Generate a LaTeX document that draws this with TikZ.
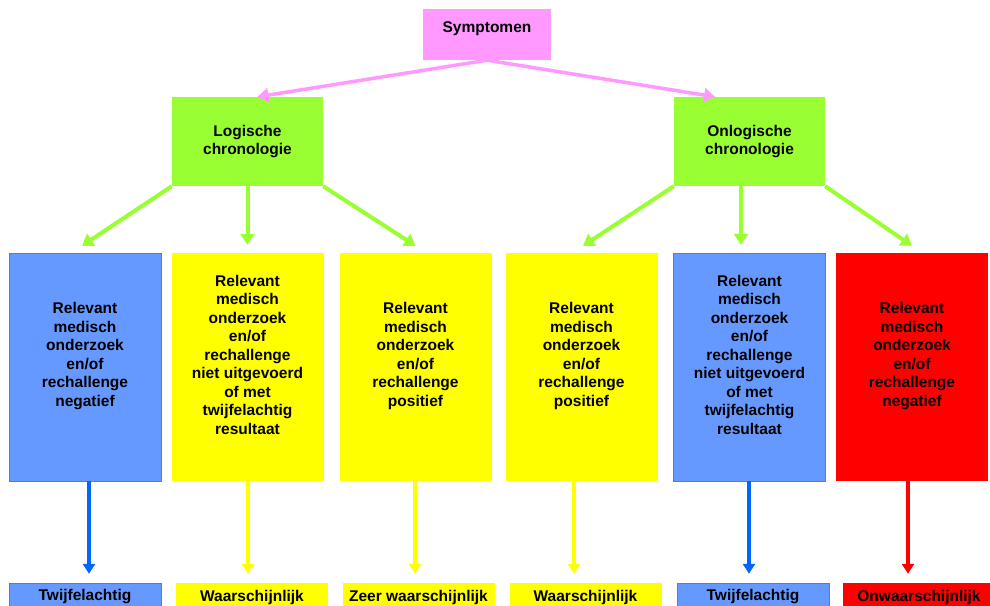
\documentclass[tikz,border=0pt]{standalone}
\usepackage{fontspec}
\setmainfont{Liberation Sans}
\usetikzlibrary{arrows.meta}
\newcommand\lift[1]{\raisebox{7pt}[0pt][0pt]{\begin{tabular}{@{}c@{}}#1\end{tabular}}}

\begin{document}
\begin{tikzpicture}[x=1pt,y=-1pt,
  every node/.style={font=\fontsize{15.5}{18.5}\selectfont\bfseries, inner sep=0pt, align=center},
  head/.style={fill=sym pink, minimum width=128pt, minimum height=51pt},
  branch/.style={fill=branch green, minimum width=151pt, minimum height=89pt},
  outcome/.style={minimum width=152pt, minimum height=228pt},
  verdict/.style={minimum width=152pt, minimum height=28pt},
  link/.style={line width=4pt, -{Triangle[length=11pt,width=14pt]}},
  drop/.style={line width=3.5pt, shorten >=9pt, -{Triangle[length=10pt,width=12pt]}}]
\definecolor{sym pink}{HTML}{FF99FF}
\definecolor{branch green}{HTML}{99FF33}
\definecolor{doubt blue}{HTML}{6699FF}
\definecolor{doubt edge}{HTML}{3D80FF}
\definecolor{arrow blue}{HTML}{0066FF}
\definecolor{bright yellow}{HTML}{FFFF00}
\definecolor{bright red}{HTML}{FF0000}
\def\negtext{Relevant\\medisch\\onderzoek\\en/of\\rechallenge\\negatief}
\def\postext{Relevant\\medisch\\onderzoek\\en/of\\rechallenge\\positief}
\def\opentext{Relevant\\medisch\\onderzoek\\en/of\\rechallenge\\niet uitgevoerd\\of met\\twijfelachtig\\resultaat}
\useasboundingbox (0,0) rectangle (990,605);

% top and branches
\node[head] (sym) at (487,34.5) {\raisebox{2.5pt}[0pt][0pt]{Symptomen}};
\node[branch] (logic) at (247.5,141.5) {Logische\\chronologie};
\node[branch] (illogic) at (749.5,141.5) {Onlogische\\chronologie};

% outcome boxes
\node[outcome, fill=doubt blue, draw=doubt edge] (r1) at (85,367) {\lift{\negtext}};
\node[outcome, fill=bright yellow] (r2) at (247.5,367) {\lift{\opentext}};
\node[outcome, fill=bright yellow] (r3) at (415.5,367) {\lift{\postext}};
\node[outcome, fill=bright yellow] (r4) at (581.5,367) {\lift{\postext}};
\node[outcome, fill=doubt blue, draw=doubt edge] (r5) at (749.5,367) {\lift{\opentext}};
\node[outcome, fill=bright red] (r6) at (912,367) {\lift{\negtext}};

% verdicts
\node[verdict, fill=doubt blue, draw=doubt edge] (v1) at (85,597) {Twijfelachtig};
\node[verdict, fill=bright yellow] (v2) at (252,597) {Waarschijnlijk};
\node[verdict, fill=bright yellow] (v3) at (418.5,597) {Zeer waarschijnlijk};
\node[verdict, fill=bright yellow] (v4) at (585.5,597) {Waarschijnlijk};
\node[verdict, fill=doubt blue, draw=doubt edge] (v5) at (753,597) {Twijfelachtig};
\node[verdict, fill=bright red] (v6) at (919,597) {Onwaarschijnlijk};

\draw[link, sym pink, line width=3.5pt] (sym.south) -- ([xshift=10pt]logic.north);
\draw[link, sym pink, line width=3.5pt] (sym.south) -- ([xshift=-34.5pt]illogic.north);

\draw[link, branch green] (logic.south west) -- ([xshift=-3pt,yshift=7pt]r1.north);
\draw[link, branch green] (logic.south) -- ([yshift=8pt]r2.north);
\draw[link, branch green] (logic.south east) -- ([yshift=7pt]r3.north);
\draw[link, branch green] (illogic.south west) -- ([xshift=1.5pt,yshift=7pt]r4.north);
\draw[link, branch green] ([xshift=-8.5pt]illogic.south) -- ([xshift=-8.5pt,yshift=8pt]r5.north);
\draw[link, branch green] (illogic.south east) -- ([yshift=7pt]r6.north);

\foreach \i/\dx/\c in {1/4/arrow blue, 2/0.5/bright yellow, 3/-0.5/bright yellow,
    4/-7.5/bright yellow, 5/-0.5/arrow blue, 6/-4/bright red}
  \draw[drop, color=\c] ([xshift=\dx pt]r\i.south) -- ([xshift=\dx pt]r\i.south |- v\i.north);

\end{tikzpicture}
\end{document}
